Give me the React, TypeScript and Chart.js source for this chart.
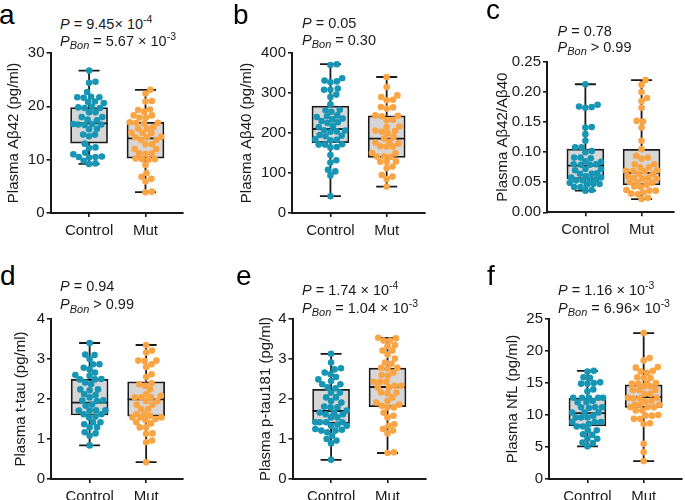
import React, { useEffect, useRef } from "react";
import { Chart, registerables } from "chart.js";
Chart.register(...registerables);

const FONT = '"Liberation Sans", Arial, Helvetica, sans-serif';
const categories = ["Control", "Mut"];

// ---- data: values ----
// box stats: [min, q1, median, q3, max]
const aControl = [26.7, 24.6, 24.4, 22.7, 21.7, 21.7, 21.6, 21.8, 20.8, 20.6, 20.9, 19.7, 19.8, 19.7, 19.9, 18.9, 18.9, 18.0, 18.0, 17.4, 17.5, 16.6, 16.7, 16.6, 16.5, 16.7, 15.7, 15.8, 14.7, 14.7, 14.4, 13.0, 12.3, 12.2, 11.3, 11.0, 10.6, 10.5, 10.5, 10.4, 9.8, 9.3, 9.2];
const aMut = [23.1, 22.4, 21.0, 20.9, 19.3, 19.4, 19.0, 18.3, 18.3, 17.9, 17.9, 16.9, 16.9, 17.0, 16.8, 15.8, 15.8, 16.1, 15.0, 15.0, 15.1, 14.2, 14.2, 14.3, 13.7, 13.7, 12.9, 12.9, 12.0, 12.0, 11.2, 11.2, 11.1, 10.1, 10.1, 10.2, 10.0, 9.0, 7.5, 6.8, 6.4, 5.9, 4.0, 3.9];
const aStats = [[9.2, 13.1, 16.8, 19.75, 26.7], [3.9, 10.3, 14.0, 17.0, 23.1]];

const bControl = [372, 370, 337, 331, 327, 329, 311, 308, 308, 296, 290, 272, 257, 258, 253, 240, 244, 242, 234, 236, 225, 227, 230, 215, 217, 206, 203, 207, 204, 192, 195, 193, 184, 182, 183, 172, 171, 171, 164, 165, 145, 126, 132, 108, 104, 94, 42];
const bMut = [340, 315, 294, 290, 282, 283, 265, 261, 264, 244, 242, 243, 232, 233, 215, 216, 199, 203, 205, 206, 190, 186, 178, 174, 176, 166, 167, 166, 149, 150, 141, 142, 140, 128, 128, 129, 116, 112, 95, 91, 85, 66];
const bStats = [[42, 176, 210, 267, 372], [66, 139, 186, 243, 340]];

const cControl = [0.213, 0.179, 0.175, 0.176, 0.174, 0.141, 0.142, 0.130, 0.119, 0.108, 0.108, 0.102, 0.100, 0.091, 0.091, 0.090, 0.085, 0.084, 0.080, 0.079, 0.079, 0.080, 0.072, 0.072, 0.070, 0.064, 0.064, 0.065, 0.060, 0.058, 0.058, 0.055, 0.053, 0.054, 0.053, 0.049, 0.047, 0.046, 0.047, 0.042, 0.042, 0.037, 0.036];
const cMut = [0.220, 0.212, 0.200, 0.190, 0.185, 0.174, 0.152, 0.151, 0.141, 0.119, 0.105, 0.094, 0.089, 0.091, 0.080, 0.080, 0.075, 0.075, 0.069, 0.069, 0.070, 0.068, 0.064, 0.064, 0.060, 0.056, 0.057, 0.056, 0.057, 0.049, 0.050, 0.050, 0.046, 0.043, 0.042, 0.036, 0.036, 0.037, 0.033, 0.031, 0.030, 0.024, 0.022];
const cStats = [[0.036, 0.0556, 0.0776, 0.105, 0.213], [0.022, 0.0457, 0.0655, 0.1046, 0.220]];

const dControl = [3.40, 3.11, 3.10, 3.00, 2.87, 2.87, 2.74, 2.78, 2.66, 2.58, 2.60, 2.49, 2.49, 2.50, 2.37, 2.41, 2.24, 2.22, 2.24, 2.12, 2.10, 2.04, 1.95, 1.97, 1.96, 1.86, 1.83, 1.71, 1.72, 1.71, 1.72, 1.62, 1.62, 1.54, 1.56, 1.42, 1.42, 1.37, 1.29, 1.29, 1.17, 1.14, 1.08, 0.84];
const dMut = [3.35, 3.21, 3.16, 2.96, 2.95, 2.96, 2.87, 2.80, 2.62, 2.55, 2.39, 2.37, 2.33, 2.24, 2.12, 2.08, 2.04, 2.04, 2.04, 1.95, 1.95, 1.86, 1.86, 1.75, 1.75, 1.62, 1.62, 1.58, 1.54, 1.54, 1.54, 1.50, 1.47, 1.42, 1.39, 1.29, 1.29, 1.14, 1.13, 0.96, 0.92, 0.42];
const dStats = [[0.84, 1.60, 1.91, 2.49, 3.40], [0.42, 1.57, 1.99, 2.43, 3.35]];

const eControl = [3.13, 2.91, 2.77, 2.74, 2.66, 2.62, 2.55, 2.49, 2.45, 2.37, 2.37, 2.29, 2.27, 2.16, 2.16, 2.04, 2.04, 1.91, 1.95, 1.79, 1.81, 1.79, 1.71, 1.66, 1.62, 1.62, 1.66, 1.54, 1.54, 1.42, 1.42, 1.42, 1.42, 1.33, 1.33, 1.36, 1.25, 1.21, 1.23, 1.21, 1.17, 1.08, 1.00, 0.96, 0.89, 0.48];
const eMut = [3.53, 3.52, 3.46, 3.46, 3.32, 3.35, 3.21, 3.21, 3.11, 3.01, 2.91, 2.88, 2.78, 2.76, 2.78, 2.66, 2.58, 2.60, 2.43, 2.43, 2.43, 2.33, 2.33, 2.29, 2.29, 2.16, 2.16, 2.14, 2.04, 1.95, 1.91, 1.86, 1.83, 1.79, 1.79, 1.66, 1.58, 1.54, 1.37, 1.33, 1.25, 1.21, 1.14, 0.67, 0.65];
const eStats = [[0.48, 1.39, 1.70, 2.24, 3.13], [0.65, 1.81, 2.30, 2.77, 3.53]];

const fControl = [16.9, 16.8, 15.9, 15.8, 14.9, 14.9, 15.1, 15.0, 14.0, 13.7, 12.7, 12.7, 12.7, 12.7, 12.7, 12.0, 12.2, 12.0, 11.2, 11.2, 11.1, 11.2, 10.4, 10.4, 10.4, 9.6, 9.6, 9.6, 9.9, 8.9, 8.9, 8.9, 8.6, 8.2, 8.2, 7.6, 7.6, 7.0, 6.9, 6.3, 6.3, 5.7, 5.6, 5.1];
const fMut = [22.8, 18.9, 18.5, 17.5, 17.4, 16.8, 16.9, 16.6, 15.9, 15.8, 15.8, 15.0, 14.9, 15.0, 14.9, 14.5, 14.5, 13.9, 13.9, 13.9, 13.3, 13.3, 12.6, 12.6, 12.7, 12.7, 12.2, 12.1, 11.6, 11.6, 11.6, 11.2, 11.2, 11.2, 10.7, 10.7, 9.9, 9.9, 10.0, 9.4, 9.4, 8.6, 8.7, 5.5, 4.2, 2.8];
const fStats = [[5.1, 8.3, 10.3, 12.6, 16.9], [2.8, 11.2, 12.8, 14.7, 22.8]];

const aTicks = [0, 10, 20, 30];
const bTicks = [0, 100, 200, 300, 400];
const cTicks = [0, 0.05, 0.1, 0.15, 0.2, 0.25];
const dTicks = [0, 1, 2, 3, 4];
const eTicks = [0, 1, 2, 3, 4];
const fTicks = [0, 5, 10, 15, 20, 25];

// ---- styling / layout ----
const TEAL = "#1795b4";
const ORANGE = "#fba443";
const INK = "#1a1a1a";
const BOX_FILL = "#d6d6d6";
const PX_PER_CAT = 57.5;
const FIRST_CAT = 39.3;
const AX_FS = 15;

type Cfg = {
  id: string;
  letter: string;
  letterPos: [number, number];
  axisX: number; top: number; bottom: number; right: number;
  titleOffset: number;
  yTitle: string;
  ticks: number[];
  digits: number;
  control: number[]; mut: number[]; stats: number[][];
  pLeft: number; pBase1: number; pBase2: number;
  line1: React.ReactNode; line2: React.ReactNode;
};

const Sup = ({ t }: { t: string }) => (
  <span style={{ position: "relative", top: -5.5, fontSize: 10.5 }}>{t}</span>
);
const Bon = () => (
  <span style={{ position: "relative", top: 3.5, fontSize: 11, fontStyle: "italic" }}>Bon</span>
);
const P = () => <i>P</i>;

const panels: Cfg[] = [
  {
    id: "a", letter: "a", letterPos: [-1, 25], axisX: 50, top: 52.3, bottom: 213.3, right: 185,
    titleOffset: 36.5, yTitle: "Plasma Aβ42 (pg/ml)", ticks: aTicks, digits: 0,
    control: aControl, mut: aMut, stats: aStats, pLeft: 60, pBase1: 29, pBase2: 46,
    line1: <><P /> = 9.45× 10<Sup t="-4" /></>,
    line2: <><P /><Bon /> = 5.67 × 10<Sup t="-3" /></>,
  },
  {
    id: "b", letter: "b", letterPos: [233, 25], axisX: 292, top: 52.3, bottom: 213.3, right: 428,
    titleOffset: 45, yTitle: "Plasma Aβ40 (pg/ml)", ticks: bTicks, digits: 0,
    control: bControl, mut: bMut, stats: bStats, pLeft: 302, pBase1: 28.5, pBase2: 45,
    line1: <><P /> = 0.05</>,
    line2: <><P /><Bon /> = 0.30</>,
  },
  {
    id: "c", letter: "c", letterPos: [486, 20], axisX: 547, top: 60.7, bottom: 212, right: 677,
    titleOffset: 44, yTitle: "Plasma Aβ42/Aβ40", ticks: cTicks, digits: 2,
    control: cControl, mut: cMut, stats: cStats, pLeft: 557.5, pBase1: 36, pBase2: 52,
    line1: <><P /> = 0.78</>,
    line2: <><P /><Bon /> &gt; 0.99</>,
  },
  {
    id: "d", letter: "d", letterPos: [0, 286], axisX: 50.7, top: 317.7, bottom: 478.7, right: 185,
    titleOffset: 30, yTitle: "Plasma t-tau (pg/ml)", ticks: dTicks, digits: 0,
    control: dControl, mut: dMut, stats: dStats, pLeft: 60, pBase1: 291.5, pBase2: 309.5,
    line1: <><P /> = 0.94</>,
    line2: <><P /><Bon /> &gt; 0.99</>,
  },
  {
    id: "e", letter: "e", letterPos: [236, 286], axisX: 292, top: 317.7, bottom: 478.7, right: 428,
    titleOffset: 26.5, yTitle: "Plasma p-tau181 (pg/ml)", ticks: eTicks, digits: 0,
    control: eControl, mut: eMut, stats: eStats, pLeft: 302, pBase1: 295, pBase2: 313,
    line1: <><P /> = 1.74 × 10<Sup t="-4" /></>,
    line2: <><P /><Bon /> = 1.04 × 10<Sup t="-3" /></>,
  },
  {
    id: "f", letter: "f", letterPos: [487, 286], axisX: 549, top: 317.7, bottom: 478.7, right: 685,
    titleOffset: 36, yTitle: "Plasma NfL (pg/ml)", ticks: fTicks, digits: 0,
    control: fControl, mut: fMut, stats: fStats, pLeft: 558, pBase1: 295, pBase2: 313,
    line1: <><P /> = 1.16 × 10<Sup t="-3" /></>,
    line2: <><P /><Bon /> = 6.96× 10<Sup t="-3" /></>,
  },
];

const R = 3.3;
const PAD_TOP = 10;
const X_H = 36;
const TITLE_LH = AX_FS * 1.2;

// deterministic beeswarm layout (pixel offsets -> data units)
function swarm(values: number[], yPx: number, xPx: number, maxOff: number): number[] {
  const order = values.map((_, i) => i).sort((i, j) => values[i] - values[j]);
  const placed: { x: number; y: number }[] = [];
  const out = new Array(values.length).fill(0);
  const need = 2 * R * 0.93;
  for (const i of order) {
    const y = values[i] * yPx;
    let best = 0;
    let bestScore = -Infinity;
    for (let k = 0; k <= maxOff * 4; k++) {
      const c = (k % 2 === 1 ? 1 : -1) * Math.ceil(k / 2) * 0.5;
      let m = Infinity;
      for (const p of placed) {
        const dd = Math.hypot(p.x - c, p.y - y);
        if (dd < m) m = dd;
      }
      if (m >= need) { best = c; break; }
      if (m > bestScore) { bestScore = m; best = c; }
    }
    placed.push({ x: best, y });
    out[i] = best / xPx;
  }
  return out;
}

function PanelChart({ cfg }: { cfg: Cfg }) {
  const ref = useRef<HTMLCanvasElement>(null);
  const yW = cfg.titleOffset + TITLE_LH / 2;
  const left = cfg.axisX - yW;
  const topC = cfg.top - PAD_TOP;
  const width = Math.ceil(cfg.right - left + 1);
  const height = Math.ceil(PAD_TOP + (cfg.bottom - cfg.top) + X_H);
  const padRight = width - (cfg.right - left);
  const padBottom = height - PAD_TOP - (cfg.bottom - cfg.top) - X_H;

  useEffect(() => {
    const yMax = cfg.ticks[cfg.ticks.length - 1];
    const plotH = cfg.bottom - cfg.top;
    const yPx = plotH / yMax;
    const xMin = 1 - FIRST_CAT / PX_PER_CAT;
    const xMax = xMin + (cfg.right - cfg.axisX) / PX_PER_CAT;
    const offC = swarm(cfg.control, yPx, PX_PER_CAT, 16);
    const offM = swarm(cfg.mut, yPx, PX_PER_CAT, 16);
    const stats = cfg.stats;

    const whisker = {
      id: "whisker" + cfg.id,
      afterDatasetDraw(chart: any, args: any) {
        if (args.index !== 0) return;
        const { ctx } = chart;
        const xs = chart.scales.x;
        const ys = chart.scales.y;
        ctx.save();
        ctx.strokeStyle = INK;
        ctx.lineWidth = 1.8;
        stats.forEach((s, i) => {
          const cx = xs.getPixelForValue(i + 1);
          const [mn, q1, md, q3, mx] = s.map((v) => ys.getPixelForValue(v));
          ctx.beginPath();
          ctx.moveTo(cx, mn); ctx.lineTo(cx, q1);
          ctx.moveTo(cx, q3); ctx.lineTo(cx, mx);
          ctx.moveTo(cx - 10.5, mn); ctx.lineTo(cx + 10.5, mn);
          ctx.moveTo(cx - 10.5, mx); ctx.lineTo(cx + 10.5, mx);
          ctx.moveTo(cx - 18.5, md); ctx.lineTo(cx + 18.5, md);
          ctx.stroke();
        });
        ctx.restore();
      },
    };

    const tickFont = { family: FONT, size: AX_FS };
    const chart = new Chart(ref.current as HTMLCanvasElement, {
      type: "bar",
      data: {
        datasets: [
          {
            type: "bar",
            data: stats.map((s, i) => ({ x: i + 1, y: [s[1], s[3]] })) as any,
            backgroundColor: BOX_FILL,
            borderColor: INK,
            borderWidth: 1.7,
            borderSkipped: false,
            barThickness: 37,
            order: 2,
          } as any,
          {
            type: "scatter",
            data: cfg.control.map((v, i) => ({ x: 1 + offC[i], y: v })),
            backgroundColor: TEAL,
            borderWidth: 0,
            pointRadius: R,
            order: 1,
          } as any,
          {
            type: "scatter",
            data: cfg.mut.map((v, i) => ({ x: 2 + offM[i], y: v })),
            backgroundColor: ORANGE,
            borderWidth: 0,
            pointRadius: R,
            order: 1,
          } as any,
        ],
      },
      options: {
        animation: false,
        responsive: false,
        maintainAspectRatio: false,
        events: [],
        layout: { padding: { left: 0, top: PAD_TOP, right: padRight, bottom: padBottom } },
        plugins: { legend: { display: false }, tooltip: { enabled: false } },
        scales: {
          x: {
            type: "linear",
            min: xMin,
            max: xMax,
            offset: false,
            afterBuildTicks: (s: any) => { s.ticks = [{ value: 1 }, { value: 2 }]; },
            afterFit: (s: any) => { s.height = X_H; },
            border: { display: true, color: INK, width: 2 },
            grid: { display: true, drawOnChartArea: false, drawTicks: true, tickLength: 4, color: INK, lineWidth: 1.6, offset: false },
            ticks: {
              color: INK, font: tickFont, padding: 5, maxRotation: 0, autoSkip: false,
              callback: (v: any) => categories[Math.round(Number(v)) - 1] ?? "",
            },
          },
          y: {
            type: "linear",
            min: 0,
            max: yMax,
            afterBuildTicks: (s: any) => { s.ticks = cfg.ticks.map((v) => ({ value: v })); },
            afterFit: (s: any) => { s.width = yW; },
            border: { display: true, color: INK, width: 2 },
            grid: { display: true, drawOnChartArea: false, drawTicks: true, tickLength: 4, color: INK, lineWidth: 1.6 },
            ticks: {
              color: INK, font: tickFont, padding: 2,
              callback: (v: any) => Number(v).toFixed(cfg.digits),
            },
            title: { display: true, text: cfg.yTitle, color: INK, font: { family: FONT, size: AX_FS }, padding: 0 },
          },
        },
      } as any,
      plugins: [whisker as any],
    });
    return () => chart.destroy();
  }, []);

  return (
    <canvas
      ref={ref}
      width={width}
      height={height}
      style={{ position: "absolute", left, top: topC }}
    />
  );
}

function TextLine({ left, base, children }: { left: number; base: number; children: React.ReactNode }) {
  const fs = 14.5;
  return (
    <div
      style={{
        position: "absolute", left, top: base - 0.8465 * fs, fontSize: fs, lineHeight: `${fs}px`,
        whiteSpace: "nowrap", color: INK, fontFamily: FONT,
      }}
    >
      {children}
    </div>
  );
}

export default function App() {
  return (
    <div
      style={{
        position: "absolute", left: 0, top: 0, width: 685, height: 500, overflow: "hidden",
        background: "#fff", fontFamily: FONT,
      }}
    >
      {panels.map((p) => (
        <PanelChart key={p.id} cfg={p} />
      ))}
      {panels.map((p) => (
        <React.Fragment key={"t" + p.id}>
          <div
            style={{
              position: "absolute", left: p.letterPos[0], top: p.letterPos[1] - 0.8465 * 28,
              fontSize: 28, lineHeight: "28px", color: "#000", fontFamily: FONT,
            }}
          >
            {p.letter}
          </div>
          <TextLine left={p.pLeft} base={p.pBase1}>{p.line1}</TextLine>
          <TextLine left={p.pLeft} base={p.pBase2}>{p.line2}</TextLine>
        </React.Fragment>
      ))}
    </div>
  );
}
